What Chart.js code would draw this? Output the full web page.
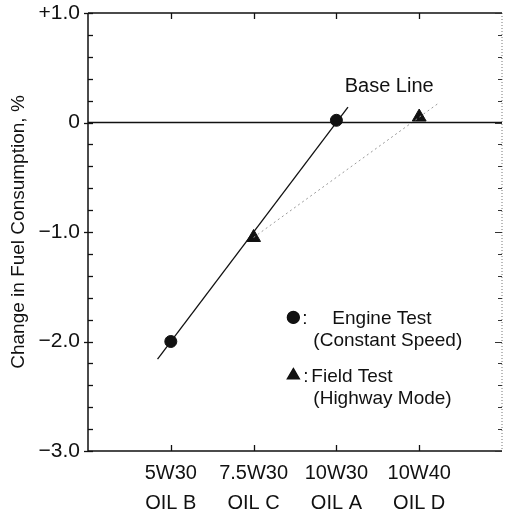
<!DOCTYPE html>
<html><head><meta charset="utf-8">
<script src="https://cdn.jsdelivr.net/npm/chart.js@4/dist/chart.umd.min.js"></script>
<style>html,body{margin:0;padding:0;background:#fff;}#wrap{width:505px;height:512px;}</style>
</head><body><div id="wrap"><canvas id="c" width="505" height="512"></canvas></div>
<script>
const categories = ['5W30', '7.5W30', '10W30', '10W40'];
const oilNames = ['OIL B', 'OIL C', 'OIL A', 'OIL D'];
const engineTest = [-2.0, null, 0.02, null];
const fieldTest = [null, -1.05, null, 0.05];
const engineFitX = [-0.16, 2.14];
const engineFitY = [-2.16, 0.14];
const fieldFitX = [1.0, 3.24];
const fieldFitY = [-1.05, 0.18];
const baseLineY = [0, 0];
const baseLineX = [-1, 4];
const yTickLabels = { '1': '+1.0', '0': '0', '-1': '\u22121.0', '-2': '\u22122.0', '-3': '\u22123.0' };
const yMin = -3, yMax = 1, xMin = -1, xMax = 4;

const pts = (arr) => arr.map((v, i) => v === null ? null : { x: i, y: v }).filter(p => p);
const pairs = (xs, ys) => xs.map((x, i) => ({ x: x, y: ys[i] }));

const FONT = "'Liberation Sans', Arial, sans-serif";
const INK = '#111';

const framePlugin = {
  id: 'frame',
  afterDatasetsDraw(chart) {
    const { ctx, chartArea: a, scales: { x, y } } = chart;
    ctx.save();
    ctx.strokeStyle = INK;
    ctx.lineWidth = 1.5;
    ctx.beginPath();
    ctx.moveTo(a.left, a.top); ctx.lineTo(a.left, a.bottom);
    ctx.moveTo(a.left, a.top); ctx.lineTo(a.right, a.top);
    ctx.moveTo(a.left, a.bottom); ctx.lineTo(a.right, a.bottom);
    ctx.stroke();
    ctx.strokeStyle = '#777';
    ctx.lineWidth = 1;
    ctx.setLineDash([1, 2]);
    ctx.beginPath(); ctx.moveTo(a.right, a.top); ctx.lineTo(a.right, a.bottom); ctx.stroke();
    ctx.setLineDash([]);
    ctx.strokeStyle = INK;
    for (let k = 0; k <= 20; k++) {
      const v = yMin + k * 0.2;
      const py = Math.round(y.getPixelForValue(v)) + 0.5;
      const major = Math.abs(v - Math.round(v)) < 1e-6;
      ctx.lineWidth = 1.3;
      ctx.beginPath();
      ctx.moveTo(a.left - (major ? 4 : 0), py); ctx.lineTo(a.left + 5, py);
      ctx.stroke();
      ctx.lineWidth = 1;
      ctx.strokeStyle = '#333';
      ctx.beginPath();
      ctx.moveTo(a.right, py); ctx.lineTo(a.right - (major ? 7 : 4), py);
      ctx.stroke();
      ctx.strokeStyle = INK;
    }
    ctx.lineWidth = 1.3;
    categories.forEach((c, i) => {
      const px = Math.round(x.getPixelForValue(i)) + 0.5;
      ctx.beginPath();
      ctx.moveTo(px, a.bottom); ctx.lineTo(px, a.bottom - 6);
      ctx.moveTo(px, a.top); ctx.lineTo(px, a.top + 6);
      ctx.stroke();
    });
    ctx.fillStyle = INK;
    ctx.textBaseline = 'middle';
    ctx.textAlign = 'left';
    ctx.font = '20px ' + FONT;
    ctx.fillText('Base Line', x.getPixelForValue(2.1), y.getPixelForValue(0.33));
    const lx = x.getPixelForValue(1.48);
    ctx.font = '19px ' + FONT;
    Chart.helpers.drawPoint(ctx, { pointStyle: 'circle', radius: 6, rotation: 0, borderWidth: 1 }, lx, y.getPixelForValue(-1.78));
    ctx.fill();
    ctx.fillText(':', lx + 9, y.getPixelForValue(-1.79));
    ctx.fillText('Engine Test', lx + 39, y.getPixelForValue(-1.79));
    ctx.fillText('(Constant Speed)', lx + 20, y.getPixelForValue(-1.99));
    Chart.helpers.drawPoint(ctx, { pointStyle: 'triangle', radius: 7, rotation: 0, borderWidth: 1 }, lx, y.getPixelForValue(-2.31));
    ctx.fill();
    ctx.fillText(':', lx + 10, y.getPixelForValue(-2.32));
    ctx.fillText('Field Test', lx + 18, y.getPixelForValue(-2.32));
    ctx.fillText('(Highway Mode)', lx + 20, y.getPixelForValue(-2.52));
    ctx.restore();
  }
};

new Chart(document.getElementById('c'), {
  type: 'scatter',
  data: {
    datasets: [
      { label: 'Base', data: pairs(baseLineX, baseLineY), showLine: true, borderColor: INK, borderWidth: 1.5, pointRadius: 0 },
      { label: 'Engine fit', data: pairs(engineFitX, engineFitY), showLine: true, borderColor: INK, borderWidth: 1.3, pointRadius: 0 },
      { label: 'Field fit', data: pairs(fieldFitX, fieldFitY), showLine: true, borderColor: '#999', borderWidth: 1, borderDash: [2, 3], pointRadius: 0 },
      { label: 'Engine Test', data: pts(engineTest), pointStyle: 'circle', pointRadius: 6, backgroundColor: INK, borderColor: INK },
      { label: 'Field Test', data: pts(fieldTest), pointStyle: 'triangle', pointRadius: 8, backgroundColor: INK, borderColor: INK }
    ]
  },
  options: {
    responsive: false,
    animation: false,
    layout: { autoPadding: false, padding: { top: 13, right: 3, left: 0, bottom: 0 } },
    plugins: { legend: { display: false }, tooltip: { enabled: false } },
    scales: {
      x: {
        type: 'linear', min: xMin, max: xMax,
        grid: { display: false, drawTicks: false },
        border: { display: false },
        afterBuildTicks: (s) => { s.ticks = categories.map((c, i) => ({ value: i })); },
        afterFit: (s) => { s.height = 61; s.paddingLeft = 0; s.paddingRight = 0; },
        ticks: {
          padding: 7, color: INK, maxRotation: 0, autoSkip: false,
          font: { family: FONT, size: 20, lineHeight: 1.5 },
          callback: (v) => [categories[v], oilNames[v]]
        }
      },
      y: {
        min: yMin, max: yMax,
        grid: { display: false, drawTicks: false },
        border: { display: false },
        afterBuildTicks: (s) => { s.ticks = Object.keys(yTickLabels).map(k => ({ value: Number(k) })); },
        afterFit: (s) => { s.width = 88; s.paddingTop = 0; s.paddingBottom = 0; },
        ticks: {
          padding: 8, color: INK,
          font: { family: FONT, size: 21 },
          callback: (v) => yTickLabels[String(v)]
        },
        title: {
          display: true, text: 'Change in Fuel Consumption, %', color: INK,
          font: { family: FONT, size: 19 }, padding: { top: 7, bottom: 0 }
        }
      }
    }
  },
  plugins: [framePlugin]
});
</script></body></html>
